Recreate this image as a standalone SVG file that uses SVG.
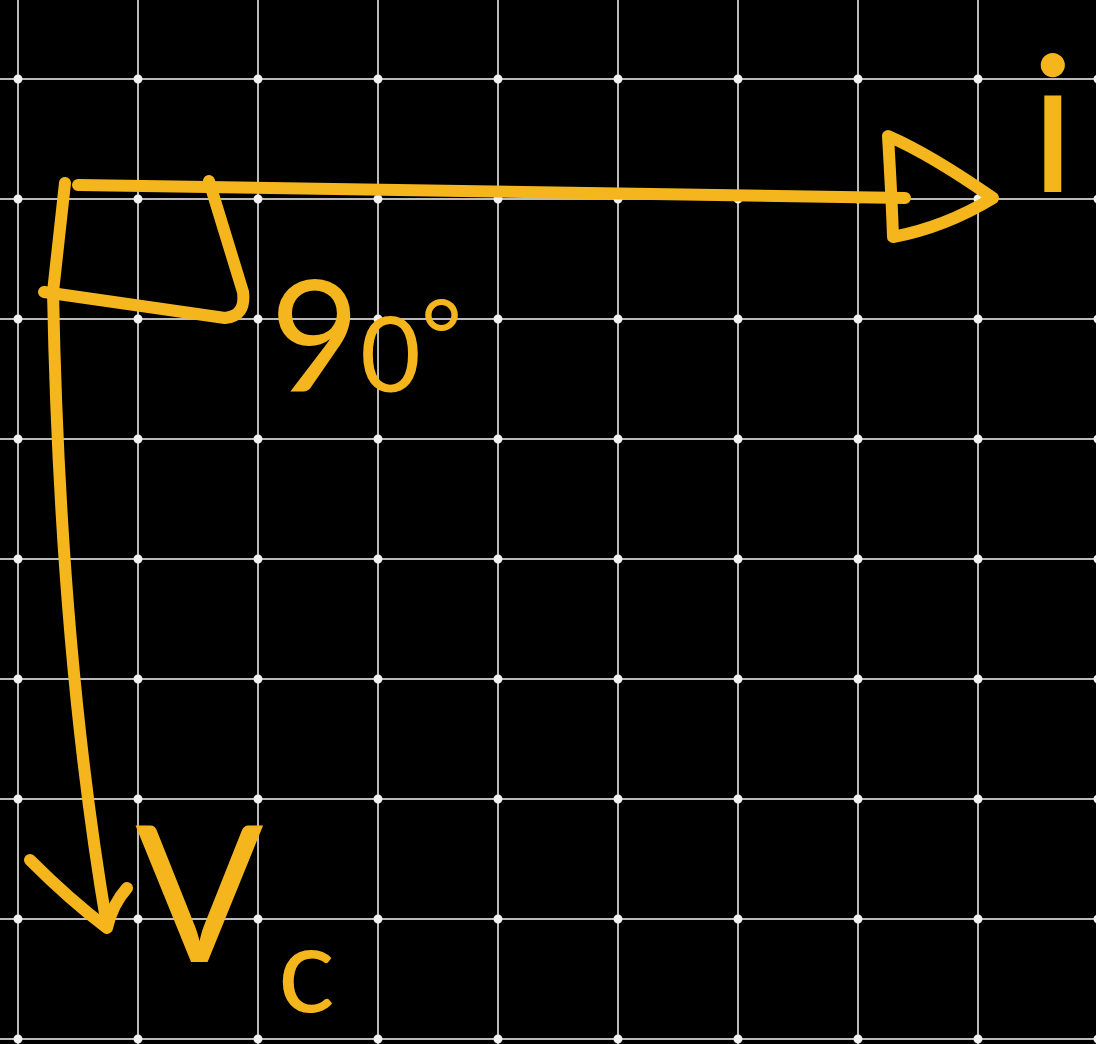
<svg xmlns="http://www.w3.org/2000/svg" width="1096" height="1044" viewBox="0 0 1096 1044">
<style>
.grid{stroke:#b9b9b9;stroke-width:2;fill:none}
.dots{stroke:#f2f2f2;stroke-width:9;stroke-linecap:round;stroke-dasharray:0 120;fill:none}
.ink{stroke:#f4b61c;stroke-width:12;stroke-linecap:round;stroke-linejoin:round;fill:none}
.lbl{fill:#f4b61c;font-family:"Lato","Liberation Sans",sans-serif;font-weight:400}
</style>
<rect width="1096" height="1044" fill="#000"/>
<g id="grid">
<path class="grid" d="M18,0V1044M138,0V1044M258,0V1044M378,0V1044M498,0V1044M618,0V1044M738,0V1044M858,0V1044M978,0V1044M1098,0V1044M0,79H1096M0,199H1096M0,319H1096M0,439H1096M0,559H1096M0,679H1096M0,799H1096M0,919H1096M0,1039H1096"/>
<path class="dots" d="M18,79H1100M18,199H1100M18,319H1100M18,439H1100M18,559H1100M18,679H1100M18,799H1100M18,919H1100M18,1039H1100"/>
</g>
<g id="connectors">
<path id="i-vector" class="ink" d="M78,185 L905,198"/>
<path id="i-head" class="ink" d="M888,136 C890,170 892,205 893,237 C930,230 965,215 993,198 C960,175 925,152 888,136 Z"/>
<path id="vc-vector" class="ink" d="M65,183 L53,292 Q60,650 107,926"/>
<path id="vc-head" class="ink" d="M30,860 Q70,900 107,928 Q112,905 127,888"/>
<path id="right-angle" class="ink" d="M44,292 L225,318 Q246,316 243,292 L209,181"/>
</g>
<g id="label-i">
<text class="lbl" x="1030" y="192" font-size="190">i</text>
</g>
<g id="label-angle">
<text class="lbl" x="270" y="392" font-size="155">9<tspan font-size="105">0</tspan><tspan font-size="100" dy="-20">°</tspan></text>
</g>
<g id="label-vc">
<text class="lbl" x="135" y="962" font-size="190">V<tspan font-size="120" dx="14" dy="50">c</tspan></text>
</g>
</svg>
